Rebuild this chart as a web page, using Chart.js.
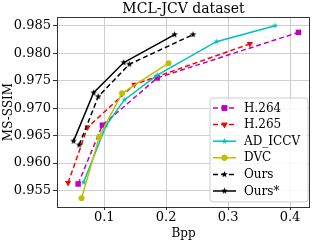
<!DOCTYPE html>
<html>
<head>
<meta charset="utf-8">
<script src="https://cdn.jsdelivr.net/npm/chart.js@4/dist/chart.umd.min.js"></script>
<style>
html,body{margin:0;padding:0;background:#fff;}
#wrap{width:316px;height:242px;position:relative;}
</style>
</head>
<body>
<div id="wrap"><canvas id="c" width="316" height="242"></canvas></div>
<script>
// ---- data ----
const titleText = "MCL-JCV dataset";
const xLabel = "Bpp";
const yLabel = "MS-SSIM";
const xTicks = [0.1, 0.2, 0.3, 0.4];
const yTicks = [0.955, 0.960, 0.965, 0.970, 0.975, 0.980, 0.985];
const seriesNames = ["H.264", "H.265", "AD_ICCV", "DVC", "Ours", "Ours*"];
const bppH264 = [0.0578, 0.0970, 0.1855, 0.4136];
const ssimH264 = [0.9562, 0.9669, 0.9755, 0.9838];
const bppH265 = [0.0416, 0.0730, 0.1486, 0.3351];
const ssimH265 = [0.9564, 0.9665, 0.9743, 0.9817];
const bppAD = [0.0666, 0.1028, 0.1324, 0.1855, 0.2811, 0.3757];
const ssimAD = [0.9565, 0.9668, 0.9715, 0.9760, 0.9821, 0.9850];
const bppDVC = [0.0633, 0.0919, 0.1287, 0.2038];
const ssimDVC = [0.9536, 0.9648, 0.9727, 0.9782];
const bppOurs = [0.0595, 0.0903, 0.1405, 0.2433];
const ssimOurs = [0.9633, 0.9721, 0.9780, 0.9834];
const bppOursS = [0.0504, 0.0828, 0.1315, 0.2135];
const ssimOursS = [0.9640, 0.9728, 0.9783, 0.9834];

const FONT = "'DejaVu Serif', serif";

function pts(xs, ys){ return xs.map((x,i)=>({x:x, y:ys[i]})); }

function starCanvas(color, r){
  const s = Math.ceil(r*2+2);
  const c = document.createElement('canvas');
  c.width = s; c.height = s;
  const g = c.getContext('2d');
  const cx = s/2, cy = s/2;
  g.beginPath();
  for (let i=0;i<10;i++){
    const ang = -Math.PI/2 + i*Math.PI/5;
    const rr = (i%2===0) ? r : r*0.42;
    const px = cx + rr*Math.cos(ang), py = cy + rr*Math.sin(ang);
    if (i===0) g.moveTo(px,py); else g.lineTo(px,py);
  }
  g.closePath();
  g.fillStyle = color; g.fill();
  return c;
}

const cMag = '#bf00bf', cRed = '#ff0000', cCyan = '#00bfbf', cYel = '#bfbf00', cBlk = '#000000';

const datasets = [
  {label: seriesNames[0], data: pts(bppH264, ssimH264), borderColor: cMag, backgroundColor: cMag,
   borderDash:[5,3], pointStyle:'rect', pointRadius:3.9, order:6},
  {label: seriesNames[1], data: pts(bppH265, ssimH265), borderColor: cRed, backgroundColor: cRed,
   borderDash:[5,3], pointStyle:'triangle', pointRotation:180, pointRadius:3.6, order:5},
  {label: seriesNames[2], data: pts(bppAD, ssimAD), borderColor: cCyan, backgroundColor: cCyan,
   pointStyle: starCanvas(cCyan, 3.2), pointRadius:3, order:4},
  {label: seriesNames[3], data: pts(bppDVC, ssimDVC), borderColor: cYel, backgroundColor: cYel,
   pointStyle:'circle', pointRadius:3, order:3},
  {label: seriesNames[4], data: pts(bppOurs, ssimOurs), borderColor: cBlk, backgroundColor: cBlk,
   borderDash:[5,3], pointStyle: starCanvas(cBlk, 3.4), pointRadius:3, order:2},
  {label: seriesNames[5], data: pts(bppOursS, ssimOursS), borderColor: cBlk, backgroundColor: cBlk,
   pointStyle: starCanvas(cBlk, 3.4), pointRadius:3, order:1}
];
datasets.forEach(d=>{ d.borderWidth = 1.5; d.pointBorderWidth = 0; d.showLine = true; d.fill = false; d.tension = 0; d.pointHoverRadius = d.pointRadius; });

const frameAndTitle = {
  id:'frameAndTitle',
  afterDraw(chart){
    const {ctx, chartArea:a} = chart;
    ctx.save();
    ctx.strokeStyle = '#333';
    ctx.lineWidth = 1;
    ctx.strokeRect(Math.round(a.left)+0.5, Math.round(a.top)+0.5, Math.round(a.right-a.left)-1, Math.round(a.bottom-a.top));
    ctx.fillStyle = '#000';
    ctx.font = "14px " + FONT;
    ctx.textAlign = 'center';
    ctx.textBaseline = 'middle';
    ctx.fillText(titleText, (a.left+a.right)/2, 9.5);
    ctx.restore();
  }
};

const insideLegend = {
  id:'insideLegend',
  afterDraw(chart){
    const {ctx, chartArea:a} = chart;
    const ds = chart.data.datasets;
    const bx = 210, by = 98, bw = a.right - 2 - bx, bh = 104;
    ctx.save();
    ctx.beginPath();
    const r = 3;
    ctx.moveTo(bx+r,by); ctx.lineTo(bx+bw-r,by); ctx.quadraticCurveTo(bx+bw,by,bx+bw,by+r);
    ctx.lineTo(bx+bw,by+bh-r); ctx.quadraticCurveTo(bx+bw,by+bh,bx+bw-r,by+bh);
    ctx.lineTo(bx+r,by+bh); ctx.quadraticCurveTo(bx,by+bh,bx,by+bh-r);
    ctx.lineTo(bx,by+r); ctx.quadraticCurveTo(bx,by,bx+r,by);
    ctx.closePath();
    ctx.fillStyle = 'rgba(255,255,255,0.85)';
    ctx.fill();
    ctx.strokeStyle = '#cccccc';
    ctx.lineWidth = 1;
    ctx.stroke();
    ds.forEach((d,i)=>{
      const y = 108 + i*16.6;
      ctx.beginPath();
      ctx.setLineDash(d.borderDash || []);
      ctx.strokeStyle = d.borderColor;
      ctx.lineWidth = 1.5;
      ctx.moveTo(213, y); ctx.lineTo(236, y);
      ctx.stroke();
      ctx.setLineDash([]);
      ctx.fillStyle = d.backgroundColor;
      ctx.beginPath();
      Chart.helpers.drawPoint(ctx, {pointStyle: d.pointStyle, rotation: d.pointRotation || 0, radius: d.pointRadius, borderWidth: 0}, 224.5, y);
      if (typeof d.pointStyle === 'string') ctx.fill();
      ctx.fillStyle = '#000';
      ctx.font = "12px " + FONT;
      ctx.textAlign = 'left';
      ctx.textBaseline = 'middle';
      ctx.fillText(d.label, 244, y+0.5);
    });
    ctx.restore();
  }
};

new Chart(document.getElementById('c'), {
  type:'line',
  data:{datasets: datasets},
  plugins:[frameAndTitle, insideLegend],
  options:{
    responsive:false,
    animation:false,
    events:[],
    layout:{padding:{top:17, right:6, left:0, bottom:0}},
    plugins:{legend:{display:false}, title:{display:false}, tooltip:{enabled:false}},
    scales:{
      x:{
        type:'linear', min:0.0237, max:0.4322,
        afterBuildTicks(s){ s.ticks = xTicks.map(v=>({value:v})); },
        afterFit(s){ s.height = 35; },
        grid:{color:'#cfcfcf', lineWidth:1, tickLength:3, tickColor:'#333', drawTicks:true},
        border:{display:false},
        ticks:{color:'#000', padding:0, maxRotation:0, font:{family:FONT, size:13},
               callback:(v)=>v.toFixed(1)},
        title:{display:true, text:xLabel, color:'#000', font:{family:FONT, size:12}, padding:{top:0,bottom:1}}
      },
      y:{
        type:'linear', min:0.9520, max:0.9866,
        afterBuildTicks(s){ s.ticks = yTicks.map(v=>({value:v})); },
        afterFit(s){ s.width = 57; },
        grid:{color:'#cfcfcf', lineWidth:1, tickLength:4, tickColor:'#333', drawTicks:true},
        border:{display:false},
        ticks:{color:'#000', padding:2, font:{family:FONT, size:13},
               callback:(v)=>v.toFixed(3)},
        title:{display:true, text:yLabel, color:'#000', font:{family:FONT, size:12}, padding:{top:2,bottom:0}}
      }
    }
  }
});
</script>
</body>
</html>
